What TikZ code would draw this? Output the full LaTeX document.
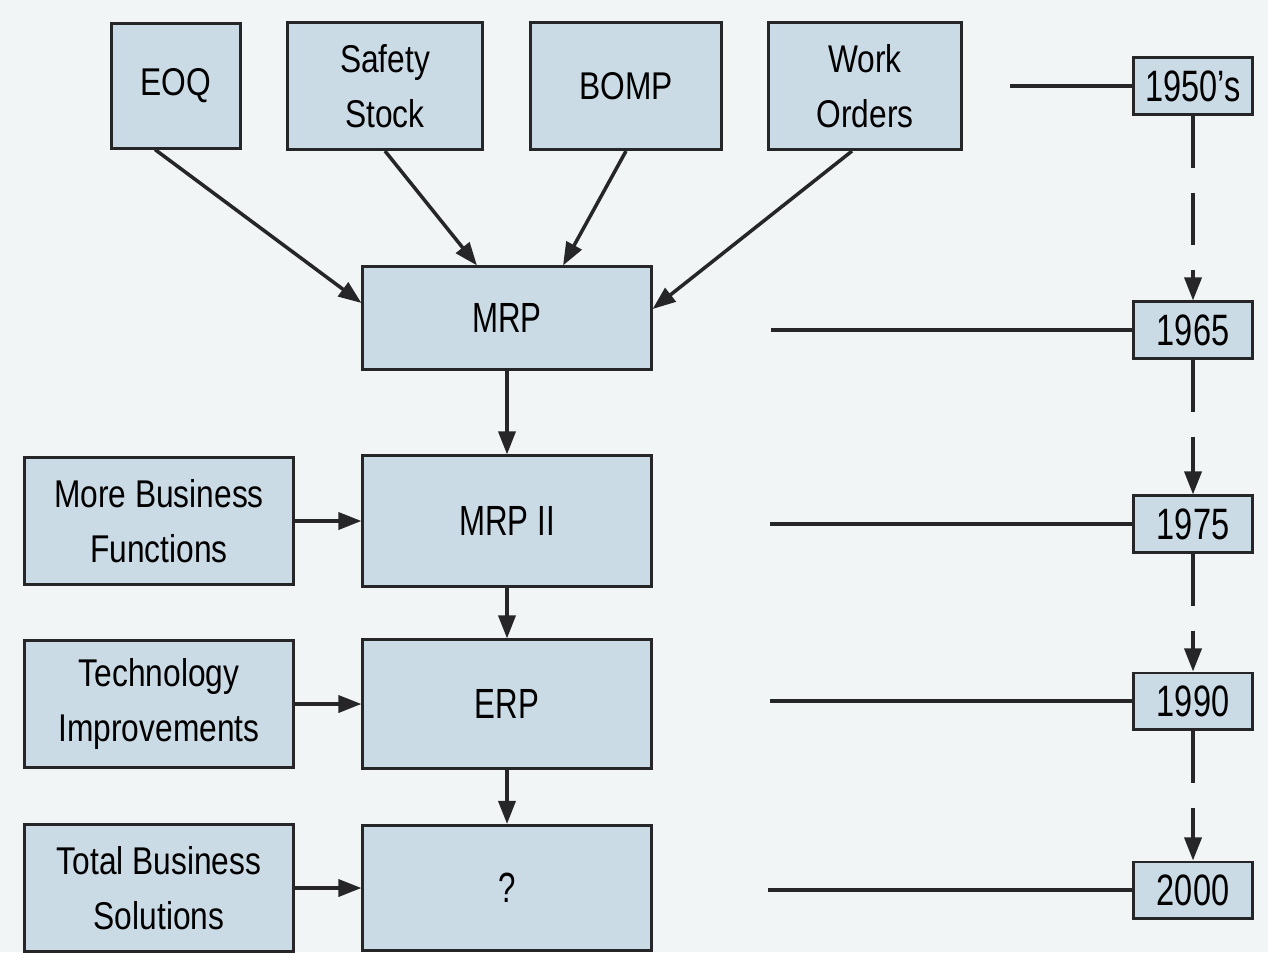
\documentclass[tikz,border=0pt]{standalone}
\usepackage{fontspec}
\setmainfont{Liberation Sans}[FakeStretch=0.82]
\newfontfamily\narrowfont{Liberation Sans}[FakeStretch=0.74]
\usepackage{tikz}
\usetikzlibrary{arrows.meta}
\usetikzlibrary{positioning}

\definecolor{boxcol}{RGB}{203,219,230}
\definecolor{linecol}{RGB}{38,38,40}
\definecolor{paper}{RGB}{242,245,246}

\tikzset{
    box/.style = {draw = linecol, fill = boxcol, line width = 0.85pt, align = center,
                  inner sep = 0pt, font = \fontsize{11}{15.6}\selectfont},
    mainbox/.style = {box, minimum width = 2.88cm, minimum height = 1.28cm,
                      font = \narrowfont\fontsize{12}{14}\selectfont},
    sidebox/.style = {box, minimum width = 2.68cm, minimum height = 1.27cm},
    yearbox/.style = {box, minimum width = 1.19cm, minimum height = 0.56cm,
                      font = \narrowfont\fontsize{12.5}{14}\selectfont},
    arr/.style = {-{Triangle[length = 0.23cm, width = 0.17cm]}, line width = 1pt, draw = linecol},
    yeararr/.style = {arr, dash pattern = on 0.52cm off 0.25cm},
    yearline/.style = {line width = 1.1pt, draw = linecol}
}

\begin{document}
\begin{tikzpicture}[x = 0.01cm, y = -0.01cm]
        \fill [paper] (0, 0) rectangle (1268, 952);
        \useasboundingbox (0, 0) rectangle (1268, 952);

        % sources
        \node [box, minimum width = 1.28cm, minimum height = 1.24cm] (eoq) at (176, 86) {EOQ};
        \node [box, minimum width = 1.94cm, minimum height = 1.27cm] (safety) at (385, 86) {Safety\\Stock};
        \node [box, minimum width = 1.90cm, minimum height = 1.27cm] (bomp) at (626, 86) {BOMP};
        \node [box, minimum width = 1.92cm, minimum height = 1.27cm] (work) at (865, 86) {Work\\Orders};

        % main column
        \node [mainbox, minimum height = 1.02cm] (mrp) at (507, 318) {MRP};
        \node [mainbox, minimum height = 1.30cm] (mrpii) at (507, 521) {MRP II};
        \node [mainbox] (erp) at (507, 704) {ERP};
        \node [mainbox, minimum height = 1.25cm] (next) at (507, 888) {?};

        \node [sidebox] (functions) at (159, 521) {More Business\\Functions};
        \node [sidebox] (technology) at (159, 704) {Technology\\Improvements};
        \node [sidebox] (solutions) at (159, 888) {Total Business\\Solutions};

        % time line
        \node [yearbox] (y1950) at (1193, 86) {1950’s};
        \node [yearbox] (y1965) at (1193, 330) {1965};
        \node [yearbox] (y1975) at (1193, 524) {1975};
        \node [yearbox] (y1990) at (1193, 701) {1990};
        \node [yearbox] (y2000) at (1193, 890) {2000};

        \coordinate (l1950) at (1010, 86);
        \coordinate (l1965) at (771, 330);
        \coordinate (l1975) at (770, 524);
        \coordinate (l1990) at (770, 701);
        \coordinate (l2000) at (768, 890);

        \draw [arr] ([xshift = -0.21cm] eoq.south) -- ([yshift = 0.15cm] mrp.west);
        \draw [arr] (safety.south) -- ([xshift = -0.30cm] mrp.north);
        \draw [arr] (bomp.south) -- ([xshift = 0.56cm] mrp.north);
        \draw [arr] ([xshift = -0.13cm] work.south) -- ([yshift = 0.09cm] mrp.east);

        \draw [arr] (mrp) -- (mrpii);
        \draw [arr] (mrpii) -- (erp);
        \draw [arr] (erp) -- (next);
        \draw [arr] (functions) -- (mrpii);
        \draw [arr] (technology) -- (erp);
        \draw [arr] (solutions) -- (next);

        \draw [yearline] (l1950) -- (y1950);
        \draw [yearline] (l1965) -- (y1965);
        \draw [yearline] (l1975) -- (y1975);
        \draw [yearline] (l1990) -- (y1990);
        \draw [yearline] (l2000) -- (y2000);

        \draw [yeararr] (y1950) -- (y1965);
        \draw [yeararr] (y1965) -- (y1975);
        \draw [yeararr] (y1975) -- (y1990);
        \draw [yeararr] (y1990) -- (y2000);
\end{tikzpicture}
\end{document}
